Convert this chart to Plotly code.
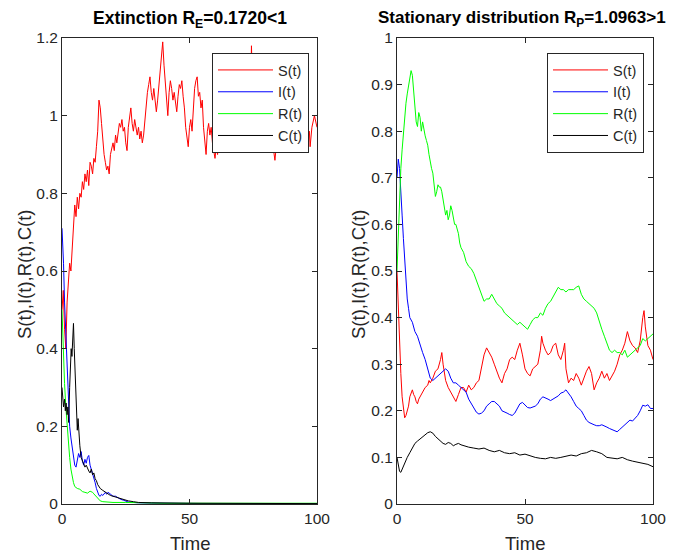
import plotly.graph_objects as go

# ---------------- Left panel (Extinction) ----------------
LS_t = [0, 0.5, 1, 1.5, 2, 2.5, 3, 3.5, 4, 4.5, 5, 5.5, 6, 6.5, 7, 7.5, 8, 8.5, 9, 9.5,
        10, 10.5, 11, 11.5, 12, 12.5, 13, 13.5, 14, 14.5, 15, 15.5, 16, 16.5, 17, 17.5,
        18, 18.5, 19, 19.5, 20, 20.5, 21, 21.5, 22, 22.5, 23, 23.5, 24, 24.5, 25, 25.5,
        26, 26.5, 27, 27.5, 28, 28.5, 29, 29.5, 30, 30.5, 31, 31.5, 32, 32.5, 33, 33.5,
        34, 34.5, 35, 35.5, 36, 36.5, 37, 37.5, 38, 38.5, 39, 39.5, 40, 40.5, 41, 41.5,
        42, 42.5, 43, 43.5, 44, 44.5, 45, 45.5, 46, 46.5, 47, 47.5, 48, 48.5, 49, 49.5,
        50, 50.5, 51, 51.5, 52, 52.5, 53, 53.5, 54, 54.5, 55, 55.5, 56, 56.5, 57, 57.5,
        58, 58.5, 59, 59.5, 60, 60.5, 61, 61.5, 62, 62.5, 63, 63.5, 64, 64.5, 65, 65.5,
        66, 66.5, 67, 67.5, 68, 68.5, 69, 69.5, 70, 70.5, 71, 71.5, 72, 72.5, 73, 73.5,
        74, 74.3, 74.6, 75, 75.5, 76, 77, 78, 79, 79.6, 80, 81, 82, 83, 83.5, 84, 85, 86,
        86.7, 87, 88, 89, 89.4, 90, 91, 92, 93, 93.3, 94, 95, 95.3, 96, 97, 97.3, 98, 99, 100]
LS_v = [0.50, 0.55, 0.45, 0.40, 0.52, 0.58, 0.62, 0.60, 0.66, 0.70, 0.77, 0.74, 0.79, 0.76, 0.80, 0.79, 0.83, 0.81, 0.85, 0.83,
        0.86, 0.82, 0.88, 0.87, 0.85, 0.89, 0.88, 0.92, 0.96, 1.04, 1.02, 0.98, 0.93, 0.90, 0.88, 0.86,
        0.87, 0.85, 0.90, 0.92, 0.93, 0.91, 0.95, 0.93, 0.96, 0.98, 0.97, 0.99, 0.96, 0.97, 0.93, 0.91,
        0.97, 0.99, 1.02, 0.98, 0.96, 0.99, 0.97, 0.95, 0.97, 0.94, 0.96, 0.93, 0.95, 0.99, 1.02, 1.06,
        1.08, 1.10, 1.06, 1.04, 1.07, 1.03, 1.01, 1.04, 1.08, 1.12, 1.15, 1.19, 1.13, 1.08, 1.04, 1.00,
        1.06, 1.09, 1.07, 1.04, 1.06, 1.03, 1.01, 1.05, 1.08, 1.07, 1.09, 1.05, 1.02, 0.97, 0.95, 0.92,
        0.97, 0.99, 0.96, 1.03, 1.07, 1.09, 1.10, 1.05, 1.06, 1.02, 1.04, 0.97, 0.93, 0.90, 0.96, 0.98,
        0.95, 0.97, 0.93, 0.91, 0.89, 0.92, 0.90, 0.94, 0.91, 0.93, 0.92, 0.95, 0.93, 0.96, 0.94, 0.97,
        0.95, 0.93, 0.96, 0.94, 0.97, 0.93, 0.96, 0.98, 0.95, 0.97, 0.94, 0.96, 0.98, 0.95, 0.97, 1.00,
        1.05, 1.18, 1.10, 0.99, 0.96, 0.94, 0.97, 0.95, 0.93, 0.92, 0.95, 0.97, 0.94, 0.91, 0.885, 0.92, 0.95, 0.93,
        0.96, 0.94, 0.97, 0.95, 0.93, 0.96, 0.98, 0.95, 0.96, 0.97, 0.94, 0.96, 0.95, 0.93, 0.96, 0.92, 0.97, 1.00, 0.97]

LI_t = [0, 0.3, 0.6, 1, 1.5, 2, 2.5, 3, 3.5, 4, 4.5, 5, 5.5, 6, 6.5, 7, 7.5, 8, 8.5, 9, 9.5,
        10, 10.5, 11, 11.5, 12, 12.5, 13, 13.5, 14, 14.5, 15, 15.5, 16, 17, 17.5, 18, 18.5, 19,
        20, 21, 22, 23, 24, 25, 26, 28, 30, 40, 60, 100]
LI_v = [0.71, 0.68, 0.62, 0.52, 0.43, 0.33, 0.24, 0.20, 0.17, 0.15, 0.12, 0.10, 0.095, 0.11, 0.13, 0.12, 0.135, 0.11, 0.10, 0.115, 0.105,
        0.12, 0.125, 0.10, 0.09, 0.08, 0.07, 0.055, 0.04, 0.03, 0.022, 0.02, 0.025, 0.022, 0.03, 0.025, 0.03, 0.028, 0.025,
        0.02, 0.02, 0.015, 0.012, 0.01, 0.007, 0.005, 0.004, 0.003, 0.002, 0.001, 0.001]

LR_t = [0, 0.3, 0.6, 1, 1.5, 2, 2.5, 3, 3.5, 4, 4.5, 5, 6, 7, 8, 9, 10, 11, 12, 12.5, 13, 14, 15, 16,
        18, 20, 25, 30, 40, 60, 80, 100]
LR_v = [0.50, 0.42, 0.36, 0.31, 0.25, 0.20, 0.16, 0.12, 0.09, 0.07, 0.055, 0.045, 0.04, 0.038, 0.032, 0.03, 0.028, 0.033, 0.03, 0.026, 0.022, 0.015, 0.008, 0.006,
        0.005, 0.004, 0.004, 0.003, 0.002, 0.002, 0.002, 0.002]

LC_t = [0, 0.3, 0.6, 1, 1.3, 1.6, 2, 2.3, 2.6, 3, 3.3, 3.6, 3.9, 4.2, 4.5, 4.8, 5.1, 5.4, 5.7, 6, 6.3, 6.6,
        7, 7.5, 8, 8.5, 9, 9.5, 10, 10.5, 11, 11.5, 12, 12.5, 13, 13.5, 14, 14.5, 15, 16, 17, 18, 19,
        20, 21, 22, 24, 26, 28, 30, 35, 50, 100]
LC_v = [0.30, 0.27, 0.25, 0.27, 0.24, 0.26, 0.23, 0.25, 0.21, 0.30, 0.36, 0.40, 0.38, 0.44, 0.465, 0.40, 0.35, 0.28, 0.21, 0.19, 0.22, 0.17,
        0.15, 0.12, 0.11, 0.10, 0.095, 0.10, 0.09, 0.085, 0.08, 0.09, 0.075, 0.08, 0.065, 0.06, 0.05, 0.045, 0.04, 0.035, 0.03, 0.025, 0.022,
        0.02, 0.018, 0.015, 0.012, 0.008, 0.006, 0.004, 0.003, 0.002, 0.001]

# ---------------- Right panel (Stationary distribution) ----------------
RS_t = [0, 0.5, 1, 1.5, 2, 2.5, 3, 3.5, 4, 4.5, 5, 5.5, 6, 6.5, 7, 7.5, 8, 8.5, 9, 10, 11, 12, 12.5, 13,
        14, 15, 16, 17, 17.5, 18, 18.5, 19, 20, 21, 22, 23, 24, 25, 26, 27, 28, 29, 30, 31, 32, 33, 34, 35,
        36, 37, 38, 39, 40, 41, 42, 43, 44, 45, 46, 47, 48, 49, 50, 51, 52, 53, 54, 55, 56, 56.5, 57, 58,
        59, 60, 61, 62, 63, 64, 65, 65.5, 66, 67, 68, 69, 70, 71, 72, 73, 74, 75, 76, 77, 78, 79, 80, 81,
        82, 83, 84, 85, 86, 87, 88, 89, 90, 91, 92, 93, 94, 95, 96, 96.5, 97, 98, 99, 100]
RS_v = [0.50, 0.42, 0.34, 0.28, 0.23, 0.20, 0.185, 0.19, 0.20, 0.21, 0.23, 0.24, 0.245, 0.235, 0.23, 0.22, 0.215, 0.225, 0.23, 0.24, 0.25, 0.255, 0.265, 0.26,
        0.27, 0.285, 0.29, 0.31, 0.325, 0.30, 0.28, 0.265, 0.25, 0.24, 0.23, 0.22, 0.235, 0.25, 0.25, 0.24, 0.255, 0.245, 0.25, 0.26, 0.265, 0.29, 0.32, 0.335,
        0.325, 0.315, 0.30, 0.285, 0.27, 0.26, 0.28, 0.29, 0.31, 0.315, 0.31, 0.33, 0.345, 0.32, 0.29, 0.28, 0.275, 0.29, 0.295, 0.30, 0.33, 0.36, 0.345, 0.33,
        0.32, 0.325, 0.34, 0.345, 0.32, 0.31, 0.33, 0.345, 0.29, 0.26, 0.27, 0.265, 0.28, 0.27, 0.255, 0.27, 0.285, 0.295, 0.28, 0.245, 0.26, 0.27, 0.285, 0.27,
        0.28, 0.265, 0.275, 0.285, 0.30, 0.32, 0.33, 0.345, 0.37, 0.35, 0.34, 0.335, 0.325, 0.35, 0.40, 0.415, 0.38, 0.34, 0.33, 0.31]

R_t = [0, 0.5, 1, 1.5, 2, 2.5, 3, 3.5, 4, 4.5, 5, 6, 7, 8, 9, 10, 11, 12, 13, 14, 15, 16, 17, 18, 19,
       20, 21, 22, 23, 24, 25, 26, 27, 28, 29, 30, 31, 32, 33, 34, 35, 36, 37, 38, 39, 40, 41, 42, 43, 44,
       45, 46, 47, 48, 49, 50, 51, 52, 53, 54, 55, 56, 57, 58, 59, 60, 61, 62, 63, 64, 65, 66, 67, 68, 69,
       70, 71, 72, 73, 74, 75, 76, 77, 78, 79, 80, 81, 82, 83, 84, 85, 86, 87, 88, 89, 90, 91, 92, 93, 94,
       95, 96, 97, 98, 99, 100]
RI_v = [0.70, 0.74, 0.72, 0.68, 0.62, 0.57, 0.52, 0.47, 0.44, 0.42, 0.40, 0.39, 0.37, 0.36, 0.34, 0.325, 0.31, 0.29, 0.27, 0.265, 0.27, 0.275, 0.28, 0.285, 0.29,
        0.285, 0.27, 0.26, 0.26, 0.255, 0.25, 0.245, 0.24, 0.225, 0.215, 0.205, 0.197, 0.193, 0.195, 0.20, 0.21, 0.215, 0.22, 0.22, 0.215, 0.21, 0.20, 0.198, 0.195, 0.192,
        0.19, 0.195, 0.205, 0.215, 0.218, 0.213, 0.207, 0.206, 0.208, 0.21, 0.215, 0.225, 0.23, 0.228, 0.225, 0.222, 0.225, 0.228, 0.232, 0.238, 0.24, 0.245, 0.238, 0.23, 0.22,
        0.21, 0.205, 0.20, 0.19, 0.18, 0.175, 0.172, 0.17, 0.168, 0.168, 0.17, 0.168, 0.165, 0.162, 0.16, 0.157, 0.155, 0.16, 0.165, 0.17, 0.175, 0.18, 0.178, 0.185, 0.19,
        0.20, 0.212, 0.21, 0.213, 0.205, 0.205]

RR_t = [0, 0.5, 1, 1.5, 2, 2.5, 3, 3.5, 4, 4.5, 5, 5.5, 6, 6.5, 7, 7.5, 8, 8.5, 9, 9.5, 10, 10.5, 11, 11.5,
        12, 12.5, 13, 13.5, 14, 14.5, 15, 15.5, 16, 16.5, 17, 17.5, 18, 18.5, 19, 19.5, 20, 20.5, 21, 21.5,
        22, 22.5, 23, 24, 24.5, 25, 26, 27, 28, 29, 30, 31, 32, 33, 34, 35, 36, 37, 38, 39, 40, 41, 42, 43,
        44, 45, 46, 47, 48, 49, 50, 51, 52, 53, 54, 55, 56, 57, 58, 59, 60, 61, 62, 63, 64, 65, 66, 67, 68,
        69, 70, 71, 72, 73, 74, 75, 76, 77, 78, 79, 80, 81, 82, 83, 84, 85, 86, 87, 88, 89, 90, 91, 92, 93,
        94, 95, 96, 97, 98, 99, 100]
RR_v = [0.50, 0.58, 0.66, 0.72, 0.76, 0.80, 0.84, 0.86, 0.88, 0.90, 0.91, 0.93, 0.92, 0.88, 0.86, 0.82, 0.81, 0.84, 0.83, 0.80, 0.82, 0.80, 0.79, 0.78,
        0.77, 0.75, 0.73, 0.72, 0.71, 0.69, 0.66, 0.67, 0.685, 0.68, 0.68, 0.67, 0.65, 0.64, 0.62, 0.63, 0.61, 0.62, 0.64, 0.63,
        0.61, 0.60, 0.60, 0.58, 0.56, 0.55, 0.54, 0.52, 0.51, 0.505, 0.495, 0.48, 0.465, 0.45, 0.435, 0.44, 0.44, 0.45, 0.44, 0.43, 0.425, 0.42, 0.41, 0.405,
        0.40, 0.395, 0.39, 0.385, 0.39, 0.385, 0.38, 0.375, 0.385, 0.395, 0.40, 0.40, 0.41, 0.405, 0.42, 0.43, 0.435, 0.445, 0.455, 0.465, 0.46, 0.46, 0.455, 0.46, 0.46,
        0.46, 0.465, 0.468, 0.45, 0.44, 0.435, 0.43, 0.425, 0.42, 0.41, 0.39, 0.375, 0.36, 0.345, 0.33, 0.325, 0.33, 0.325, 0.325, 0.32, 0.33, 0.315, 0.32, 0.325, 0.33,
        0.335, 0.34, 0.355, 0.35, 0.355, 0.36, 0.365]

RC_t = [0, 0.5, 1, 1.5, 2, 3, 4, 5, 6, 7, 8, 9, 10, 11, 12, 13, 14, 15, 16, 17, 18, 19, 20, 21, 22, 23, 24, 25, 26,
        28, 30, 32, 34, 36, 38, 40, 42, 44, 46, 48, 50, 52, 54, 56, 58, 60, 62, 64, 66, 68, 70, 72, 74, 76, 78,
        80, 82, 84, 86, 88, 90, 92, 94, 96, 98, 100]
RC_v = [0.10, 0.08, 0.07, 0.068, 0.075, 0.09, 0.10, 0.11, 0.12, 0.13, 0.135, 0.14, 0.145, 0.15, 0.153, 0.155, 0.152, 0.145, 0.14, 0.135, 0.13, 0.128, 0.132, 0.13, 0.125, 0.128, 0.13, 0.127, 0.125,
        0.122, 0.12, 0.118, 0.12, 0.115, 0.112, 0.115, 0.11, 0.108, 0.11, 0.105, 0.107, 0.103, 0.10, 0.098, 0.097, 0.10, 0.098, 0.10, 0.102, 0.105, 0.103, 0.108, 0.11, 0.115, 0.112,
        0.108, 0.10, 0.098, 0.097, 0.10, 0.095, 0.092, 0.09, 0.087, 0.085, 0.08]

NAMES = ["S(t)", "I(t)", "R(t)", "C(t)"]
COLORS = ["#ff0000", "#0000ff", "#00ff00", "#000000"]
XTICKS = [0, 50, 100]
LEFT_YTICKS = [0, 0.2, 0.4, 0.6, 0.8, 1, 1.2]
LEFT_YLABELS = ["0", "0.2", "0.4", "0.6", "0.8", "1", "1.2"]
RIGHT_YTICKS = [0, 0.1, 0.2, 0.3, 0.4, 0.5, 0.6, 0.7, 0.8, 0.9, 1]
RIGHT_YLABELS = ["0", "0.1", "0.2", "0.3", "0.4", "0.5", "0.6", "0.7", "0.8", "0.9", "1"]

# page body has an 8px margin: figure placed at (8, 8) in the window
OFF = 8
W, H = 677 - OFF, 556 - OFF
FONT = "Liberation Sans, Arial, Helvetica, sans-serif"
AX = "#262626"

fig = go.Figure()
left = [(LS_t, LS_v), (LI_t, LI_v), (LR_t, LR_v), (LC_t, LC_v)]
right = [(RS_t, RS_v), (R_t, RI_v), (RR_t, RR_v), (RC_t, RC_v)]
for (t, v), n, c in zip(left, NAMES, COLORS):
    fig.add_trace(go.Scatter(x=t, y=v, mode="lines", name=n, line=dict(color=c, width=1),
                             xaxis="x", yaxis="y", legend="legend"))
for (t, v), n, c in zip(right, NAMES, COLORS):
    fig.add_trace(go.Scatter(x=t, y=v, mode="lines", name=n, line=dict(color=c, width=1),
                             xaxis="x2", yaxis="y2", legend="legend2"))


def px_x(p):
    return (p - OFF) / W


def px_y(p):
    return 1 - (p - OFF) / H


ydom = [px_y(504), px_y(38)]
axcommon = dict(showline=True, mirror="ticks", linecolor=AX, linewidth=1, ticks="inside",
                ticklen=5, tickcolor=AX, showgrid=False, zeroline=False,
                tickfont=dict(family=FONT, size=15.5, color=AX), automargin=False)

legcommon = dict(xanchor="left", yanchor="top", bgcolor="white", bordercolor=AX, borderwidth=1,
                 font=dict(family=FONT, size=14.5, color=AX), tracegroupgap=0, itemwidth=55)

fig.update_layout(
    width=W, height=H, paper_bgcolor="white", plot_bgcolor="white",
    margin=dict(l=0, r=0, t=0, b=0, pad=0),
    font=dict(family=FONT, color=AX),
    xaxis=dict(domain=[px_x(62), px_x(317)], range=[0, 100], tickvals=XTICKS,
               anchor="y", **axcommon),
    yaxis=dict(domain=ydom, range=[0, 1.2], tickvals=LEFT_YTICKS, ticktext=LEFT_YLABELS,
               anchor="x", **axcommon),
    xaxis2=dict(domain=[px_x(397), px_x(653)], range=[0, 100], tickvals=XTICKS,
                anchor="y2", **axcommon),
    yaxis2=dict(domain=ydom, range=[0, 1], tickvals=RIGHT_YTICKS, ticktext=RIGHT_YLABELS,
                anchor="x2", **axcommon),
    legend=dict(x=px_x(212), y=px_y(53), **legcommon),
    legend2=dict(x=px_x(547), y=px_y(53), **legcommon),
    showlegend=True,
)

annos = [
    dict(text="<b>Extinction R<sub>E</sub>=0.1720&lt;1</b>", x=px_x(189.5), y=px_y(19),
         size=17.5, color="#000000"),
    dict(text="<b>Stationary distribution R<sub>P</sub>=1.0963&gt;1</b>", x=px_x(522), y=px_y(19),
         size=17, color="#000000"),
    dict(text="Time", x=px_x(189.5), y=px_y(543), size=18.5, color=AX),
    dict(text="Time", x=px_x(525), y=px_y(543), size=18.5, color=AX),
    dict(text="S(t),I(t),R(t),C(t)", x=px_x(24), y=px_y(275), size=18.5, color=AX, textangle=-90),
    dict(text="S(t),I(t),R(t),C(t)", x=px_x(358), y=px_y(275), size=18.5, color=AX, textangle=-90),
]
for a in annos:
    size = a.pop("size")
    color = a.pop("color")
    fig.add_annotation(xref="paper", yref="paper", showarrow=False, xanchor="center",
                       yanchor="middle", font=dict(family=FONT, size=size, color=color), **a)

fig.write_html("out.html")
